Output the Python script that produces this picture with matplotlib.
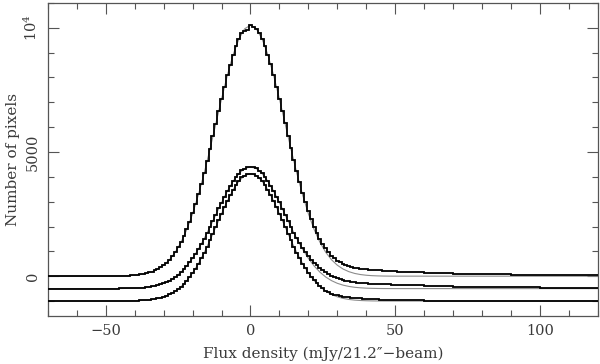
import numpy as np
import matplotlib
matplotlib.use("Agg")
import matplotlib.pyplot as plt
from matplotlib.ticker import MultipleLocator, FixedLocator, FixedFormatter

plt.rcParams['font.family'] = ['DejaVu Serif']
plt.rcParams['mathtext.fontset'] = 'dejavuserif'

# histogram bin edges (mJy/beam): one wide bin on the left, 1 mJy bins in the core, wider bins in the tail
edges = np.concatenate([[-70], np.arange(-50.5, 51, 1), [55, 60, 70, 80, 90, 100, 110, 120]])

# counts per bin (left bin, -50..50, tail bins)
top_counts = [3] + [
    6, 7, 8, 10, 12, 15, 18, 22, 28, 35,
    45, 58, 74, 95, 118, 150, 188, 236, 292, 362,
    446, 548, 668, 808, 968, 1158, 1372, 1612, 1890, 2190,
    2525, 2890, 3290, 3715, 4160, 4630, 5125, 5625, 6130, 6640,
    7140, 7630, 8090, 8520, 8910, 9270, 9560, 9770, 9860, 9900,
    10100,
    10050, 9950, 9780, 9550, 9265, 8915, 8525, 8095, 7635, 7150,
    6655, 6150, 5650, 5160, 4680, 4215, 3775, 3360, 2975, 2620,
    2295, 2000, 1735, 1500, 1295, 1115, 960, 830, 720, 630,
    555, 495, 445, 405, 372, 345, 322, 303, 288, 275,
    265, 256, 248, 241, 235, 229, 224, 219, 214, 205,
] + [185, 160, 130, 100, 78, 60, 48, 38]

mid_counts = [1] + [
    1, 1, 2, 3, 3, 5, 6, 9, 11, 15,
    20, 26, 33, 43, 55, 70, 90, 113, 141, 176,
    213, 266, 320, 392, 466, 563, 660, 784, 910, 1064,
    1218, 1404, 1588, 1801, 2010, 2250, 2476, 2731, 2965, 3226,
    3455, 3706, 3915, 4140, 4316, 4500, 4628, 4757, 4825, 4890,
    4905,
    4878, 4838, 4744, 4642, 4488, 4330, 4128, 3930, 3694, 3468,
    3214, 2978, 2730, 2489, 2258, 2039, 1831, 1638, 1459, 1302,
    1160, 1038, 931, 828, 740, 656, 585, 520, 464, 415,
    374, 340, 312, 289, 270, 252, 239, 228, 218, 209,
    201, 195, 189, 184, 179, 175, 171, 168, 164, 161,
] + [150, 138, 110, 85, 66, 52, 42, 34]

bot_counts = [0] + [
    0, 0, 1, 1, 1, 2, 3, 5, 6, 9,
    12, 16, 24, 29, 38, 50, 65, 80, 107, 136,
    171, 213, 265, 332, 398, 483, 581, 694, 823, 968,
    1131, 1296, 1507, 1720, 1949, 2191, 2462, 2708, 2976, 3247,
    3515, 3777, 4010, 4262, 4477, 4667, 4829, 4975, 5053, 5111,
    5130,
    5111, 5053, 4958, 4812, 4667, 4477, 4262, 4027, 3790, 3515,
    3247, 2976, 2708, 2445, 2176, 1949, 1720, 1510, 1318, 1140,
    980, 838, 714, 606, 510, 420, 352, 300, 260, 231,
    200, 177, 160, 145, 133, 122, 113, 104, 96, 90,
    84, 78, 73, 67, 62, 57, 52, 48, 44, 41,
] + [34, 27, 20, 14, 11, 8, 6, 5]

# gaussian fits (grey), sampled every 2 mJy
fit_x = [-70] + list(range(-50, 51, 2)) + [120]
top_fit = [0] + [2, 3, 6, 12, 22, 39, 67, 112, 183, 289, 444, 664, 966, 1367, 1882, 2519, 3280, 4152,
                 5114, 6126, 7137, 8087, 8913, 9554, 9961, 10100, 9961, 9554, 8913, 8087, 7137, 6126,
                 5114, 4152, 3280, 2519, 1882, 1367, 966, 664, 444, 289, 183, 112, 67, 39, 22, 12, 6,
                 3, 2] + [0]
mid_fit = [0] + [1, 2, 3, 6, 11, 19, 33, 54, 89, 140, 215, 322, 468, 663, 913, 1222, 1591, 2014,
                 2481, 2972, 3462, 3923, 4324, 4635, 4832, 4900, 4832, 4635, 4324, 3923, 3462, 2972,
                 2481, 2014, 1591, 1222, 913, 663, 468, 322, 215, 140, 89, 54, 33, 19, 11, 6, 3,
                 2, 1] + [0]
bot_fit = [0] + [0, 1, 1, 3, 6, 12, 22, 38, 65, 107, 171, 265, 398, 581, 823, 1131, 1507, 1949,
                 2445, 2976, 3515, 4027, 4477, 4829, 5053, 5130, 5053, 4829, 4477, 4027, 3515, 2976,
                 2445, 1949, 1507, 1131, 823, 581, 398, 265, 171, 107, 65, 38, 22, 12, 6, 3, 1,
                 1, 0] + [0]

offsets = [0, -500, -1000]

fig = plt.figure(figsize=(6.0, 3.64), dpi=100)
ax = fig.add_axes([0.08, 0.132, 0.916, 0.86])

txt = '#3a3a3a'
for counts, fit, off in zip([top_counts, mid_counts, bot_counts], [top_fit, mid_fit, bot_fit], offsets):
    ax.plot(fit_x, np.array(fit) + off, color='#8c8c8c', lw=0.8, zorder=2)
    ax.stairs(np.array(counts) + off, edges, baseline=None, color='black', lw=1.3, zorder=3)

ax.set_xlim(-70, 120)
ax.set_ylim(-1600, 11000)

ax.xaxis.set_major_locator(MultipleLocator(50))
ax.xaxis.set_minor_locator(MultipleLocator(10))
ax.yaxis.set_major_locator(FixedLocator([0, 5000, 10000]))
ax.yaxis.set_major_formatter(FixedFormatter(['0', '5000', r'$10^4$']))
ax.yaxis.set_minor_locator(MultipleLocator(1000))

ax.tick_params(which='both', direction='in', top=True, right=True, colors='#555555',
               labelcolor=txt, labelsize=10.5)
ax.tick_params(which='major', length=8, width=0.8)
ax.tick_params(which='minor', length=4, width=0.8)
ax.tick_params(axis='x', pad=6)
ax.tick_params(axis='y', labelrotation=90, pad=6)
for lab in ax.get_yticklabels():
    lab.set_verticalalignment('center')
for s in ax.spines.values():
    s.set_color('#555555')
    s.set_linewidth(0.9)

ax.set_xlabel('Flux density (mJy/21.2\u2033\u2212beam)', color=txt, fontsize=11, labelpad=6)
ax.set_ylabel('Number of pixels', color=txt, fontsize=11, labelpad=2)

fig.savefig('out.png', dpi=100)
